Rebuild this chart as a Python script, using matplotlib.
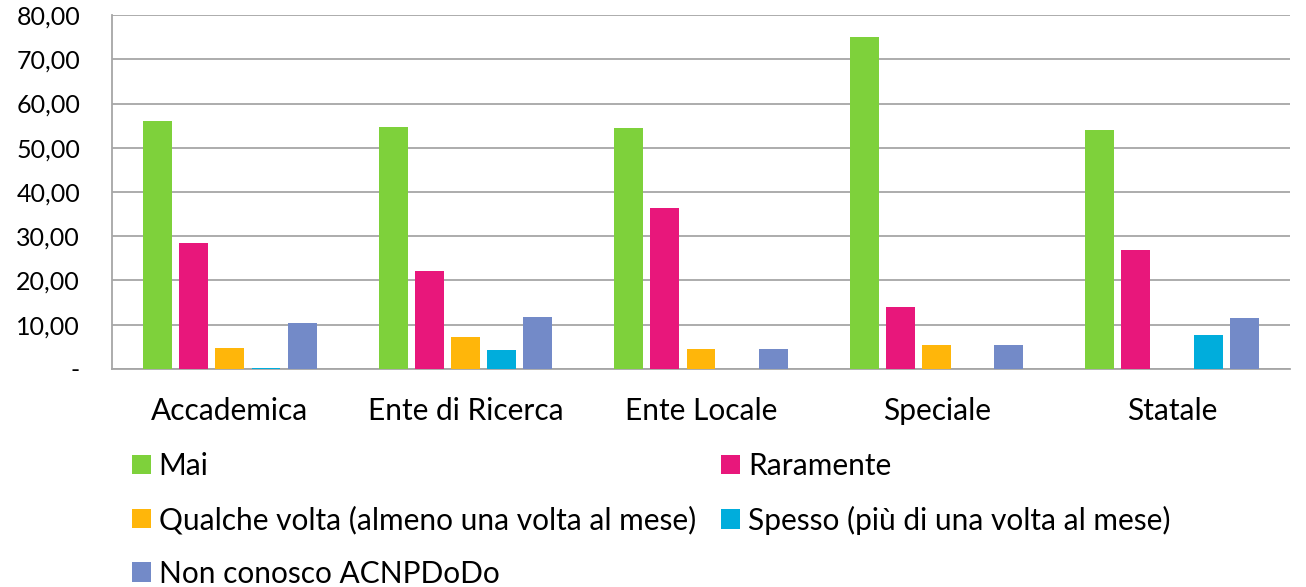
"""Grouped bar chart: frequenza d'uso ACNPDoDo per tipologia di biblioteca."""
import matplotlib
matplotlib.use("Agg")
import matplotlib.pyplot as plt
import numpy as np
from matplotlib.ticker import FuncFormatter

categories = ["Accademica", "Ente di Ricerca", "Ente Locale", "Speciale", "Statale"]
series_names = [
    "Mai",
    "Raramente",
    "Qualche volta (almeno una volta al mese)",
    "Spesso (più di una volta al mese)",
    "Non conosco ACNPDoDo",
]
mai = [56.0, 54.6, 54.5, 75.0, 54.0]
raramente = [28.4, 22.1, 36.4, 14.0, 26.9]
qualche_volta = [4.7, 7.3, 4.5, 5.5, 0.0]
spesso = [0.3, 4.4, 0.0, 0.0, 7.7]
non_conosco = [10.5, 11.8, 4.5, 5.5, 11.5]
colors = ["#7ED13B", "#E8177B", "#FFB60A", "#00ADDC", "#738AC8"]

plt.rcParams["font.family"] = ["Lato", "DejaVu Sans"]

fig = plt.figure(figsize=(13.06, 5.87), dpi=100)
ax = fig.add_axes([0.0858, 0.3714, 0.9019, 0.603])

x = np.arange(len(categories))
step, width = 0.1535, 0.123
values = [mai, raramente, qualche_volta, spesso, non_conosco]
for i, (name, vals, col) in enumerate(zip(series_names, values, colors)):
    ax.bar(x + (i - 2) * step, vals, width, color=col, label=name, zorder=3)

ax.set_xlim(-0.5, len(categories) - 0.5)
ax.set_ylim(0, 80)
ax.set_yticks(np.arange(0, 81, 10))
ax.yaxis.set_major_formatter(
    FuncFormatter(lambda v, _: "-" if v == 0 else f"{v:.2f}".replace(".", ","))
)
ax.set_xticks(x)
ax.set_xticklabels(categories)
ax.tick_params(axis="both", length=0, colors="#000000")
ax.tick_params(axis="x", labelsize=21.5, pad=20)
ax.tick_params(axis="y", labelsize=18, pad=23)
ax.grid(axis="y", color="#A6A6A6", linewidth=1.3, zorder=0)
for side in ("top", "right"):
    ax.spines[side].set_visible(False)
for side in ("left", "bottom"):
    ax.spines[side].set_color("#A6A6A6")
    ax.spines[side].set_linewidth(1.3)

# legend is filled row by row in the original
handles, labels = ax.get_legend_handles_labels()
order = [0, 2, 4, 1, 3]
fig.legend(
    [handles[k] for k in order], [labels[k] for k in order],
    ncol=2, loc="upper left", bbox_to_anchor=(0.092, 0.25),
    frameon=False, fontsize=21.5, handlelength=0.62, handleheight=0.62,
    handletextpad=0.27, columnspacing=0.85, labelspacing=0.85, borderaxespad=0,
)

fig.savefig("out.png", dpi=100)
